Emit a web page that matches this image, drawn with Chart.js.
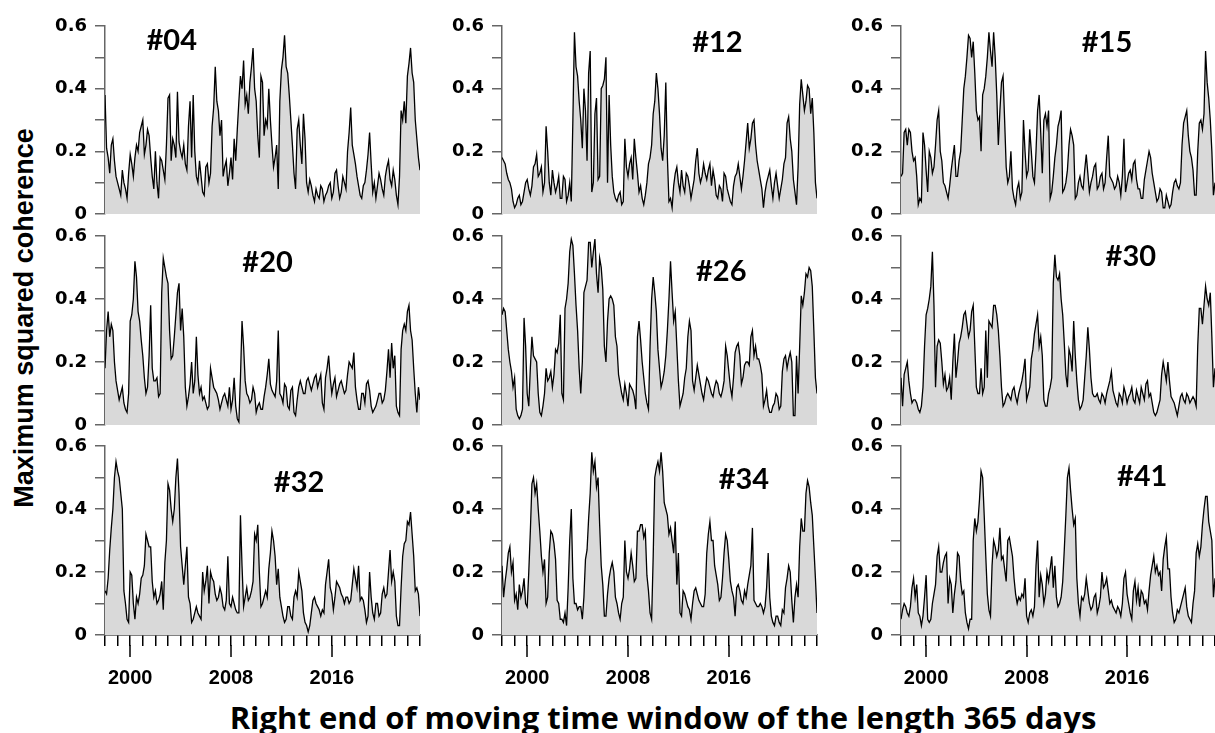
<!DOCTYPE html>
<html>
<head>
<meta charset="utf-8">
<script src="https://cdn.jsdelivr.net/npm/chart.js@4.4.0/dist/chart.umd.min.js"></script>
<style>
  html, body { margin: 0; padding: 0; background: #fff; }
  body { width: 1215px; height: 733px; position: relative; overflow: hidden; }
  canvas { position: absolute; }
  .ytitle {
    position: absolute; left: 24px; top: 318px;
    transform: translate(-50%, -50%) rotate(-90deg);
    font: bold 27px "Liberation Sans", Arial, sans-serif; white-space: nowrap; color: #000;
  }
  .xtitle {
    position: absolute; left: 663px; top: 717px;
    transform: translate(-50%, -50%);
    font: bold 31px "Open Sans", Lato, sans-serif; white-space: nowrap; color: #000;
  }
</style>
</head>
<body>
<div class="ytitle">Maximum squared coherence</div>
<div class="xtitle">Right end of moving time window of the length 365 days</div>
<script>
  // time axis: right end of the window. Readings are taken every quarter of a
  // year from 1998 to 2023 (sNN), plus one reading between each pair (sNNmid)
  const startYear = 1998;
  const stepYears = 0.25;
  const yearTicks = [2000, 2008, 2016];

  const panelNames = ['#04', '#12', '#15', '#20', '#26', '#30', '#32', '#34', '#41'];

  // maximum squared coherence
  const s04 = [0.38,0.18,0.22,0.17,0.10,0.06,0.10,0.05,0.19,0.12,
    0.22,0.26,0.30,0.22,0.25,0.12,0.20,0.05,0.17,0.11,
    0.37,0.17,0.22,0.39,0.20,0.22,0.14,0.36,0.38,0.12,
    0.17,0.07,0.15,0.10,0.28,0.47,0.33,0.30,0.15,0.09,
    0.18,0.24,0.27,0.44,0.49,0.38,0.42,0.53,0.36,0.18,
    0.42,0.30,0.40,0.22,0.18,0.08,0.46,0.57,0.45,0.30,
    0.13,0.27,0.22,0.32,0.10,0.11,0.06,0.08,0.05,0.08,
    0.06,0.09,0.05,0.13,0.09,0.07,0.10,0.20,0.34,0.19,
    0.12,0.06,0.09,0.14,0.26,0.07,0.05,0.13,0.08,0.12,
    0.17,0.09,0.11,0.03,0.33,0.36,0.44,0.53,0.42,0.24,
    0.14];
  const s04mid = [0.21,0.13,0.24,0.12,0.08,0.14,0.08,0.13,0.16,0.18,
    0.20,0.28,0.19,0.27,0.18,0.08,0.10,0.18,0.14,0.22,
    0.38,0.24,0.18,0.23,0.18,0.16,0.28,0.18,0.20,0.10,
    0.12,0.06,0.16,0.13,0.34,0.36,0.25,0.12,0.17,0.13,
    0.11,0.17,0.36,0.40,0.35,0.32,0.47,0.40,0.25,0.44,
    0.25,0.28,0.30,0.15,0.22,0.36,0.50,0.47,0.38,0.22,
    0.08,0.30,0.16,0.24,0.07,0.09,0.04,0.06,0.09,0.04,
    0.07,0.10,0.07,0.14,0.05,0.12,0.08,0.26,0.22,0.16,
    0.09,0.05,0.10,0.19,0.16,0.10,0.09,0.11,0.06,0.15,
    0.11,0.14,0.06,0.12,0.30,0.29,0.48,0.45,0.30,0.18];

  const s12 = [0.18,0.16,0.11,0.08,0.02,0.05,0.03,0.07,0.11,0.06,
    0.15,0.19,0.13,0.07,0.28,0.10,0.14,0.07,0.12,0.05,
    0.11,0.06,0.04,0.58,0.44,0.30,0.40,0.17,0.52,0.10,
    0.37,0.12,0.41,0.50,0.38,0.12,0.05,0.06,0.03,0.24,
    0.12,0.18,0.24,0.13,0.09,0.03,0.10,0.18,0.32,0.45,
    0.32,0.17,0.42,0.04,0.02,0.13,0.10,0.14,0.07,0.12,
    0.05,0.11,0.21,0.10,0.16,0.11,0.16,0.14,0.06,0.09,
    0.04,0.12,0.06,0.03,0.12,0.16,0.08,0.17,0.29,0.24,
    0.30,0.17,0.11,0.02,0.10,0.14,0.05,0.13,0.05,0.11,
    0.18,0.31,0.20,0.07,0.15,0.43,0.33,0.41,0.32,0.26,
    0.05];
  const s12mid = [0.17,0.13,0.10,0.04,0.03,0.06,0.04,0.10,0.08,0.09,
    0.16,0.12,0.15,0.10,0.20,0.06,0.10,0.09,0.05,0.12,
    0.04,0.10,0.30,0.47,0.36,0.21,0.33,0.45,0.07,0.32,
    0.11,0.40,0.43,0.10,0.22,0.07,0.04,0.07,0.04,0.15,
    0.16,0.11,0.18,0.07,0.05,0.06,0.16,0.22,0.36,0.40,
    0.21,0.25,0.18,0.05,0.09,0.15,0.07,0.09,0.13,0.09,
    0.08,0.17,0.13,0.12,0.13,0.14,0.09,0.11,0.05,0.08,
    0.13,0.08,0.04,0.09,0.13,0.12,0.12,0.23,0.21,0.29,
    0.22,0.14,0.08,0.07,0.12,0.09,0.10,0.09,0.08,0.16,
    0.29,0.24,0.11,0.03,0.35,0.38,0.36,0.40,0.37,0.10];

  const s15 = [0.12,0.26,0.22,0.26,0.17,0.12,0.05,0.26,0.14,0.20,
    0.13,0.22,0.33,0.17,0.09,0.05,0.14,0.22,0.12,0.20,
    0.40,0.50,0.56,0.55,0.33,0.31,0.38,0.44,0.58,0.47,
    0.50,0.22,0.42,0.30,0.10,0.20,0.05,0.08,0.05,0.30,
    0.12,0.27,0.12,0.20,0.38,0.13,0.32,0.33,0.07,0.18,
    0.28,0.33,0.08,0.14,0.27,0.22,0.06,0.12,0.08,0.19,
    0.07,0.12,0.16,0.09,0.13,0.10,0.25,0.11,0.08,0.12,
    0.06,0.24,0.10,0.14,0.16,0.11,0.08,0.05,0.14,0.20,
    0.13,0.07,0.05,0.07,0.02,0.04,0.03,0.10,0.09,0.10,
    0.29,0.33,0.20,0.14,0.06,0.29,0.27,0.52,0.37,0.20,
    0.10];
  const s15mid = [0.13,0.27,0.27,0.20,0.18,0.03,0.04,0.22,0.07,0.18,
    0.15,0.30,0.20,0.10,0.07,0.09,0.18,0.12,0.17,0.30,
    0.44,0.57,0.50,0.45,0.30,0.20,0.40,0.50,0.52,0.58,
    0.38,0.33,0.44,0.15,0.12,0.08,0.03,0.10,0.07,0.20,
    0.14,0.20,0.10,0.33,0.26,0.30,0.28,0.05,0.12,0.22,
    0.30,0.07,0.10,0.22,0.25,0.05,0.10,0.09,0.14,0.13,
    0.10,0.15,0.08,0.12,0.08,0.18,0.12,0.10,0.09,0.10,
    0.12,0.07,0.13,0.11,0.17,0.08,0.05,0.11,0.17,0.18,
    0.10,0.04,0.08,0.02,0.06,0.02,0.07,0.11,0.08,0.22,
    0.31,0.25,0.18,0.06,0.20,0.30,0.32,0.42,0.30,0.06];

  const s20 = [0.18,0.36,0.32,0.20,0.11,0.10,0.07,0.04,0.33,0.40,
    0.47,0.33,0.22,0.10,0.22,0.18,0.14,0.09,0.42,0.50,
    0.45,0.21,0.28,0.42,0.30,0.28,0.06,0.13,0.10,0.28,
    0.10,0.08,0.07,0.06,0.15,0.11,0.08,0.07,0.10,0.06,
    0.05,0.15,0.02,0.15,0.25,0.10,0.07,0.12,0.04,0.07,
    0.05,0.12,0.21,0.11,0.09,0.30,0.09,0.13,0.06,0.11,
    0.04,0.08,0.14,0.10,0.14,0.13,0.13,0.16,0.14,0.07,
    0.15,0.22,0.10,0.15,0.11,0.14,0.10,0.16,0.19,0.23,
    0.08,0.05,0.10,0.13,0.11,0.04,0.06,0.10,0.07,0.11,
    0.24,0.26,0.22,0.04,0.24,0.32,0.36,0.30,0.18,0.04,
    0.08];
  const s20mid = [0.30,0.28,0.30,0.14,0.08,0.12,0.05,0.10,0.35,0.52,
    0.36,0.27,0.15,0.12,0.38,0.14,0.15,0.10,0.53,0.47,
    0.30,0.22,0.35,0.45,0.37,0.12,0.09,0.20,0.14,0.16,
    0.12,0.09,0.05,0.18,0.12,0.10,0.05,0.09,0.08,0.12,
    0.08,0.06,0.01,0.33,0.14,0.09,0.08,0.10,0.06,0.05,
    0.09,0.16,0.13,0.10,0.14,0.10,0.07,0.12,0.05,0.12,
    0.03,0.12,0.12,0.10,0.15,0.11,0.15,0.12,0.16,0.05,
    0.18,0.15,0.13,0.09,0.13,0.12,0.11,0.20,0.18,0.12,
    0.05,0.10,0.07,0.14,0.06,0.05,0.08,0.10,0.08,0.17,
    0.15,0.18,0.06,0.03,0.30,0.30,0.38,0.27,0.10,0.12];

  const s26 = [0.35,0.36,0.24,0.17,0.15,0.03,0.03,0.34,0.10,0.18,
    0.22,0.20,0.04,0.06,0.18,0.15,0.12,0.24,0.26,0.10,
    0.37,0.45,0.59,0.48,0.30,0.10,0.42,0.46,0.58,0.55,
    0.48,0.53,0.43,0.20,0.40,0.40,0.28,0.16,0.10,0.13,
    0.06,0.12,0.09,0.28,0.27,0.15,0.07,0.25,0.47,0.36,
    0.18,0.14,0.22,0.40,0.42,0.36,0.14,0.08,0.15,0.28,
    0.30,0.11,0.19,0.13,0.08,0.15,0.12,0.09,0.14,0.10,
    0.11,0.25,0.17,0.09,0.23,0.26,0.13,0.19,0.20,0.28,
    0.22,0.21,0.19,0.06,0.11,0.04,0.06,0.10,0.05,0.17,
    0.22,0.21,0.20,0.03,0.10,0.41,0.42,0.47,0.49,0.30,
    0.10];
  const s26mid = [0.37,0.30,0.20,0.12,0.05,0.02,0.05,0.25,0.06,0.28,
    0.21,0.10,0.03,0.10,0.14,0.17,0.16,0.23,0.35,0.08,
    0.40,0.55,0.57,0.38,0.18,0.20,0.44,0.58,0.50,0.59,
    0.42,0.50,0.25,0.33,0.41,0.38,0.25,0.13,0.08,0.10,
    0.13,0.11,0.05,0.33,0.20,0.10,0.05,0.40,0.42,0.24,
    0.12,0.17,0.30,0.52,0.33,0.25,0.06,0.10,0.18,0.33,
    0.14,0.15,0.16,0.10,0.12,0.14,0.10,0.12,0.13,0.09,
    0.14,0.22,0.12,0.15,0.25,0.22,0.15,0.20,0.19,0.30,
    0.25,0.21,0.16,0.08,0.06,0.04,0.07,0.09,0.06,0.21,
    0.18,0.23,0.03,0.22,0.25,0.38,0.48,0.50,0.44,0.15];

  const s30 = [0.15,0.16,0.20,0.10,0.08,0.07,0.04,0.12,0.35,0.40,
    0.55,0.12,0.27,0.20,0.16,0.12,0.08,0.29,0.20,0.28,
    0.35,0.32,0.30,0.38,0.12,0.10,0.10,0.30,0.33,0.31,
    0.38,0.30,0.12,0.07,0.10,0.08,0.12,0.07,0.12,0.17,
    0.08,0.12,0.24,0.32,0.25,0.22,0.06,0.10,0.15,0.54,
    0.46,0.40,0.26,0.12,0.22,0.33,0.14,0.05,0.08,0.22,
    0.24,0.10,0.09,0.08,0.10,0.07,0.12,0.17,0.09,0.06,
    0.09,0.12,0.07,0.10,0.08,0.11,0.07,0.10,0.13,0.09,
    0.07,0.03,0.06,0.16,0.17,0.20,0.09,0.07,0.03,0.09,
    0.08,0.10,0.07,0.09,0.06,0.37,0.32,0.44,0.38,0.28,
    0.18];
  const s30mid = [0.06,0.18,0.14,0.07,0.08,0.05,0.06,0.25,0.37,0.44,
    0.38,0.25,0.26,0.13,0.11,0.15,0.20,0.15,0.26,0.31,
    0.36,0.28,0.36,0.25,0.10,0.18,0.12,0.15,0.32,0.38,
    0.35,0.22,0.06,0.09,0.09,0.11,0.09,0.10,0.14,0.21,
    0.10,0.21,0.29,0.35,0.28,0.08,0.06,0.12,0.45,0.47,
    0.48,0.35,0.16,0.24,0.17,0.22,0.08,0.06,0.15,0.31,
    0.15,0.09,0.10,0.07,0.09,0.10,0.14,0.11,0.07,0.10,
    0.07,0.10,0.09,0.12,0.07,0.09,0.12,0.08,0.14,0.10,
    0.04,0.04,0.08,0.20,0.14,0.14,0.08,0.05,0.06,0.10,
    0.07,0.09,0.08,0.08,0.25,0.37,0.38,0.40,0.42,0.12];

  const s32 = [0.14,0.18,0.34,0.50,0.52,0.45,0.14,0.05,0.20,0.10,
    0.12,0.13,0.19,0.32,0.28,0.17,0.14,0.11,0.17,0.23,
    0.48,0.40,0.40,0.56,0.28,0.16,0.28,0.10,0.05,0.09,
    0.06,0.20,0.17,0.10,0.18,0.13,0.12,0.13,0.08,0.25,
    0.09,0.10,0.07,0.38,0.09,0.15,0.12,0.17,0.30,0.20,
    0.10,0.14,0.21,0.33,0.25,0.21,0.09,0.04,0.09,0.06,
    0.12,0.12,0.17,0.07,0.03,0.03,0.11,0.10,0.08,0.08,
    0.16,0.24,0.13,0.12,0.16,0.13,0.10,0.12,0.11,0.21,
    0.15,0.11,0.11,0.04,0.20,0.07,0.10,0.06,0.13,0.12,
    0.20,0.17,0.17,0.03,0.15,0.29,0.36,0.39,0.25,0.15,
    0.06];
  const s32mid = [0.13,0.27,0.40,0.55,0.50,0.40,0.10,0.04,0.19,0.05,
    0.10,0.18,0.22,0.30,0.28,0.12,0.10,0.13,0.08,0.30,
    0.46,0.36,0.50,0.45,0.22,0.22,0.12,0.04,0.07,0.07,
    0.05,0.14,0.22,0.20,0.17,0.11,0.15,0.09,0.11,0.10,
    0.12,0.08,0.07,0.22,0.12,0.11,0.14,0.32,0.35,0.09,
    0.12,0.12,0.26,0.30,0.16,0.12,0.06,0.05,0.09,0.05,
    0.14,0.20,0.14,0.04,0.01,0.07,0.12,0.09,0.06,0.07,
    0.20,0.15,0.08,0.17,0.15,0.12,0.12,0.10,0.16,0.18,
    0.22,0.12,0.08,0.06,0.12,0.05,0.10,0.07,0.15,0.13,
    0.27,0.20,0.06,0.03,0.25,0.30,0.35,0.32,0.14,0.13];

  const s34 = [0.22,0.17,0.26,0.20,0.11,0.08,0.12,0.18,0.09,0.33,
    0.50,0.48,0.33,0.20,0.10,0.26,0.32,0.24,0.10,0.05,
    0.07,0.15,0.40,0.10,0.08,0.09,0.12,0.27,0.45,0.52,
    0.47,0.35,0.16,0.06,0.18,0.23,0.12,0.07,0.10,0.30,
    0.18,0.26,0.17,0.33,0.35,0.31,0.19,0.07,0.25,0.53,
    0.52,0.52,0.40,0.32,0.30,0.36,0.26,0.06,0.13,0.09,
    0.05,0.14,0.13,0.10,0.09,0.26,0.36,0.30,0.19,0.11,
    0.18,0.32,0.24,0.14,0.06,0.16,0.11,0.14,0.16,0.22,
    0.11,0.09,0.10,0.07,0.15,0.12,0.04,0.06,0.04,0.08,
    0.15,0.22,0.11,0.12,0.12,0.37,0.33,0.49,0.42,0.28,
    0.07];
  const s34mid = [0.12,0.21,0.28,0.23,0.13,0.16,0.14,0.10,0.20,0.48,
    0.45,0.40,0.25,0.24,0.12,0.33,0.29,0.11,0.05,0.04,
    0.03,0.30,0.18,0.10,0.09,0.05,0.24,0.37,0.58,0.55,
    0.50,0.22,0.06,0.13,0.21,0.20,0.10,0.05,0.12,0.20,
    0.21,0.22,0.18,0.33,0.35,0.33,0.14,0.05,0.50,0.55,
    0.58,0.42,0.38,0.34,0.26,0.16,0.07,0.14,0.11,0.08,
    0.10,0.15,0.11,0.09,0.13,0.32,0.30,0.22,0.16,0.12,
    0.26,0.30,0.17,0.12,0.15,0.14,0.10,0.12,0.19,0.34,
    0.10,0.09,0.09,0.09,0.26,0.06,0.03,0.06,0.03,0.07,
    0.18,0.20,0.04,0.16,0.28,0.33,0.45,0.47,0.38,0.18];

  const s41 = [0.05,0.10,0.07,0.09,0.18,0.16,0.06,0.06,0.19,0.04,
    0.10,0.16,0.28,0.20,0.25,0.10,0.16,0.13,0.26,0.17,
    0.14,0.04,0.05,0.30,0.33,0.43,0.50,0.25,0.08,0.22,
    0.28,0.27,0.24,0.21,0.30,0.28,0.18,0.10,0.11,0.12,
    0.06,0.07,0.06,0.22,0.12,0.16,0.13,0.17,0.25,0.22,
    0.09,0.12,0.27,0.50,0.46,0.35,0.18,0.06,0.11,0.18,
    0.10,0.09,0.13,0.09,0.20,0.16,0.14,0.11,0.08,0.09,
    0.06,0.18,0.13,0.07,0.14,0.11,0.09,0.13,0.11,0.14,
    0.22,0.20,0.19,0.14,0.28,0.21,0.12,0.04,0.08,0.09,
    0.13,0.09,0.05,0.10,0.26,0.25,0.35,0.44,0.36,0.30,
    0.18];
  const s41mid = [0.08,0.09,0.06,0.15,0.12,0.07,0.03,0.12,0.05,0.05,
    0.13,0.25,0.20,0.23,0.26,0.18,0.07,0.17,0.25,0.13,
    0.07,0.02,0.05,0.37,0.36,0.52,0.38,0.13,0.06,0.30,
    0.25,0.34,0.25,0.17,0.31,0.25,0.13,0.12,0.13,0.18,
    0.04,0.08,0.09,0.30,0.19,0.10,0.20,0.21,0.15,0.12,
    0.10,0.17,0.38,0.53,0.40,0.37,0.10,0.12,0.13,0.14,
    0.08,0.12,0.07,0.12,0.15,0.18,0.10,0.09,0.07,0.08,
    0.10,0.20,0.10,0.05,0.17,0.15,0.14,0.10,0.08,0.19,
    0.25,0.22,0.20,0.24,0.31,0.21,0.07,0.05,0.07,0.11,
    0.15,0.06,0.04,0.14,0.29,0.28,0.40,0.44,0.33,0.12];

  const series = [[s04, s04mid], [s12, s12mid], [s15, s15mid],
                  [s20, s20mid], [s26, s26mid], [s30, s30mid],
                  [s32, s32mid], [s34, s34mid], [s41, s41mid]];

  // where each panel name sits, in data units (year, coherence)
  const namePos = [[2003.3, 0.552], [2015.1, 0.546], [2014.4, 0.546],
                   [2010.9, 0.517], [2015.4, 0.486], [2016.3, 0.533],
                   [2013.4, 0.483], [2017.2, 0.492], [2017.2, 0.502]];

  // page layout of the 3x3 grid (plot areas)
  const colLeft = [105, 502, 901];
  const plotWidth = [315, 315, 314];
  const rowTop = [26, 236, 446];
  const rowHeight = [188, 189, 189];
  const yAxisWidth = 75;
  const padTop = 12;

  // put the two sets of readings in time order
  function mergeReadings(onQuarter, between) {
    const pts = [];
    onQuarter.forEach((v, i) => {
      pts.push({ x: startYear + i * stepYears, y: v });
      if (i < between.length) pts.push({ x: startYear + (i + 0.5) * stepYears, y: between[i] });
    });
    return pts;
  }

  series.forEach(([onQuarter, between], k) => {
    const c = k % 3, r = Math.floor(k / 3);
    const bottomRow = r === 2;
    const rightPad = c < 2 ? 5 : 0;
    const padBottom = bottomRow ? 0 : 12;

    const canvas = document.createElement('canvas');
    canvas.width = yAxisWidth + plotWidth[c] + rightPad;
    canvas.height = padTop + rowHeight[r] + (bottomRow ? 60 : padBottom);
    canvas.style.left = (colLeft[c] - yAxisWidth) + 'px';
    canvas.style.top = (rowTop[r] - padTop) + 'px';
    document.body.appendChild(canvas);

    const panelName = {
      id: 'panelName',
      afterDraw(chart) {
        const ctx = chart.ctx;
        const px = chart.scales.x.getPixelForValue(namePos[k][0]);
        const py = chart.scales.y.getPixelForValue(namePos[k][1]);
        ctx.save();
        ctx.font = 'bold 29px Lato, "Open Sans", sans-serif';
        ctx.fillStyle = '#000';
        ctx.textAlign = 'center';
        ctx.textBaseline = 'middle';
        ctx.fillText(panelNames[k], px, py);
        ctx.restore();
      }
    };

    // longer ticks for the labelled years
    const majorTicks = {
      id: 'majorTicks',
      afterDraw(chart) {
        if (!bottomRow) return;
        const ctx = chart.ctx;
        const bottom = chart.chartArea.bottom;
        ctx.save();
        ctx.strokeStyle = '#000';
        ctx.lineWidth = 1.5;
        yearTicks.forEach(yr => {
          const px = Math.round(chart.scales.x.getPixelForValue(yr));
          ctx.beginPath();
          ctx.moveTo(px, bottom + 10);
          ctx.lineTo(px, bottom + 22);
          ctx.stroke();
        });
        ctx.restore();
      }
    };

    new Chart(canvas.getContext('2d'), {
      type: 'line',
      data: {
        datasets: [{
          data: mergeReadings(onQuarter, between),
          borderColor: '#000',
          borderWidth: 1.3,
          backgroundColor: '#d9d9d9',
          fill: 'origin',
          pointRadius: 0,
          tension: 0
        }]
      },
      options: {
        responsive: false,
        animation: false,
        devicePixelRatio: 1,
        layout: { padding: { left: 0, right: rightPad, top: padTop, bottom: padBottom } },
        plugins: {
          legend: { display: false },
          tooltip: { enabled: false }
        },
        scales: {
          x: {
            type: 'linear',
            min: 1998,
            max: 2023,
            display: bottomRow,
            afterFit: s => {
              if (bottomRow) s.height = 60;
              s.paddingLeft = 0;
              s.paddingRight = 0;
            },
            ticks: {
              stepSize: 1,
              autoSkip: false,
              maxRotation: 0,
              padding: 20,
              color: '#000',
              font: { family: '"Liberation Sans", Arial, sans-serif', weight: 'bold', size: 20 },
              callback: v => yearTicks.includes(v) ? String(v) : ''
            },
            grid: { drawOnChartArea: false, tickLength: 11, color: '#000', lineWidth: 1.5 },
            border: { color: '#000', width: 1.5 }
          },
          y: {
            min: 0,
            max: 0.6,
            afterFit: s => {
              s.width = yAxisWidth;
              s.paddingTop = 0;
              s.paddingBottom = 0;
            },
            ticks: {
              stepSize: 0.1,
              padding: 8,
              color: '#000',
              font: { family: '"DejaVu Sans", sans-serif', weight: 'bold', size: 18 },
              callback: v => {
                const t = Math.round(v * 10);
                if (t % 2 !== 0) return '';
                return t === 0 ? '0' : (t / 10).toFixed(1);
              }
            },
            grid: { drawOnChartArea: false, tickLength: 10, color: '#666', lineWidth: 1.5 },
            border: { color: '#666', width: 1.5 }
          }
        }
      },
      plugins: [panelName, majorTicks]
    });
  });
</script>
</body>
</html>
